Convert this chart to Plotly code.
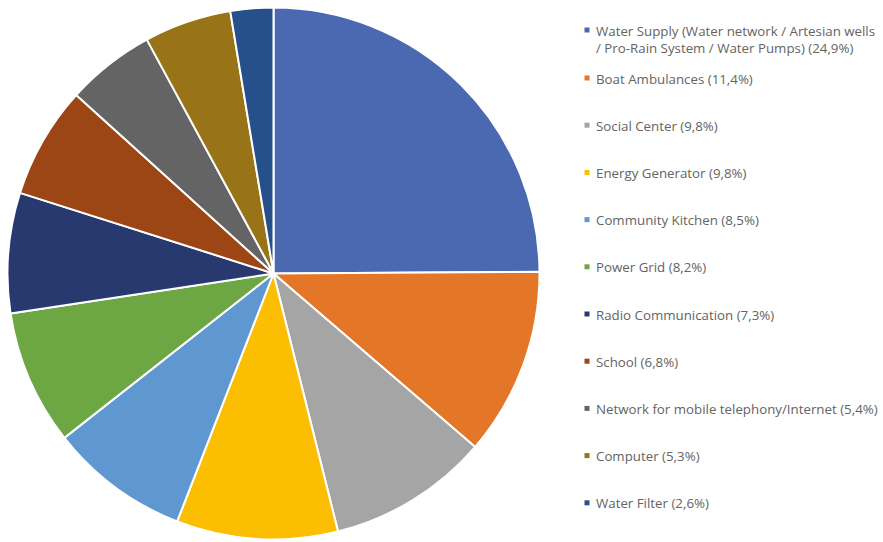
import plotly.graph_objects as go

# Share of requested infrastructure items (percent)
labels = [
    "Water Supply (Water network / Artesian wells<br>/ Pro-Rain System / Water Pumps)",
    "Boat Ambulances",
    "Social Center",
    "Energy Generator",
    "Community Kitchen",
    "Power Grid",
    "Radio Communication",
    "School",
    "Network for mobile telephony/Internet",
    "Computer",
    "Water Filter",
]
values = [24.9, 11.4, 9.8, 9.8, 8.5, 8.2, 7.3, 6.8, 5.4, 5.3, 2.6]
colors = [
    "#4A69B1", "#E47628", "#A5A5A5", "#FBBE00", "#5F98D1", "#6DA744",
    "#28396F", "#9C4615", "#646464", "#997318", "#255089",
]

W, H = 883, 542
cx, cy, r = 273.5, 273.5, 266

fig = go.Figure(go.Pie(
    labels=labels,
    values=values,
    marker=dict(colors=colors, line=dict(color="white", width=2)),
    sort=False,
    direction="clockwise",
    rotation=0,
    textinfo="none",
    hoverinfo="label+percent",
    showlegend=False,
    domain=dict(x=[(cx - r) / W, (cx + r) / W],
                y=[(H - cy - r) / H, (H - cy + r) / H]),
))

# Custom legend: colored square + label with percentage
annotations = []
shapes = []
y0, step = 30, 47.2
mx, tx = 587, 594
for i, (lab, val, col) in enumerate(zip(labels, values, colors)):
    y = y0 + i * step + (0 if i == 0 else 0.8)
    pct = f"{val:.1f}".replace(".", ",")
    text = f"{lab} ({pct}%)"
    shapes.append(dict(
        type="rect", xref="paper", yref="paper",
        x0=(mx - 2.5) / W, x1=(mx + 2.5) / W,
        y0=(H - y - 2.5) / H, y1=(H - y + 2.5) / H,
        fillcolor=col, line=dict(width=0),
    ))
    annotations.append(dict(
        x=tx / W, y=(H - y + 10.5) / H, xref="paper", yref="paper",
        xanchor="left", yanchor="top", align="left",
        text=text, showarrow=False,
        font=dict(family="Open Sans", size=13.3, color="#646464"),
    ))

fig.update_layout(
    width=W, height=H,
    margin=dict(l=0, r=0, t=0, b=0),
    paper_bgcolor="white",
    plot_bgcolor="white",
    shapes=shapes,
    annotations=annotations,
)

fig.write_html("out.html")
